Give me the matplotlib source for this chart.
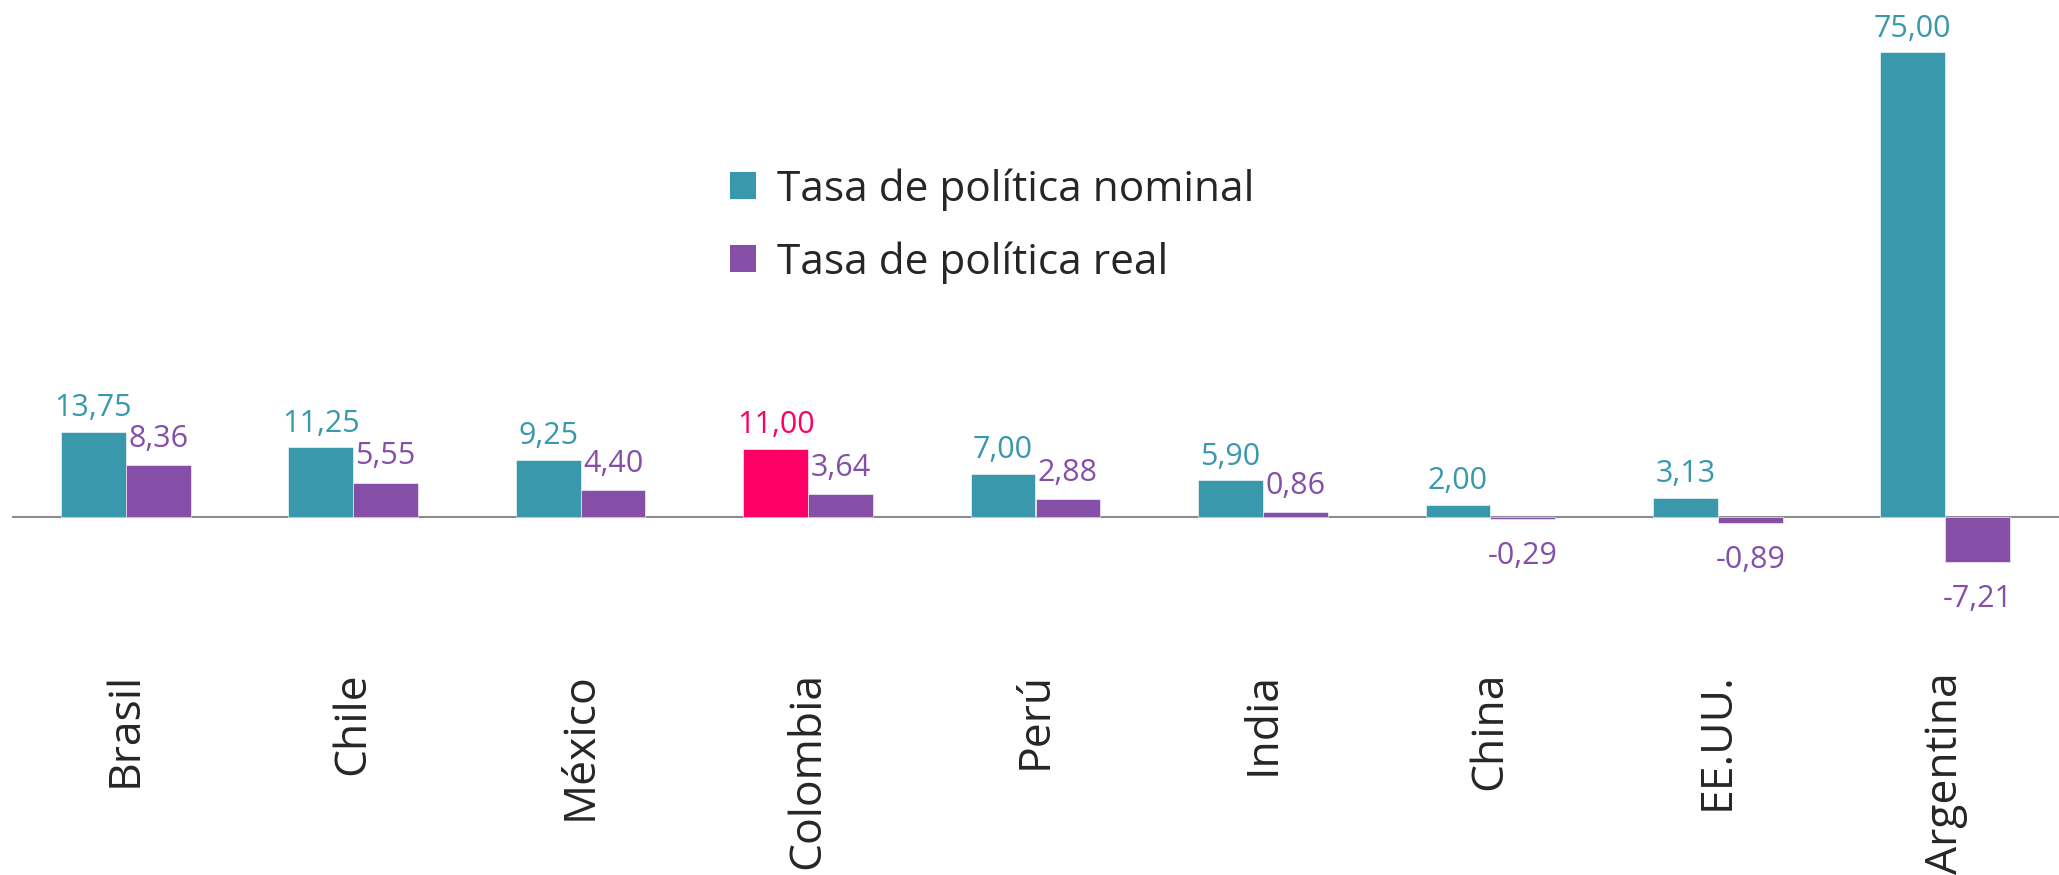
import numpy as np
import matplotlib
matplotlib.use('Agg')
import matplotlib.pyplot as plt
from matplotlib.patches import Patch

plt.rcParams['font.family'] = ['Open Sans', 'DejaVu Sans']

#Data
paises = ['Brasil', 'Chile', 'México', 'Colombia', 'Perú', 'India', 'China', 'EE.UU.', 'Argentina']
nominal = [13.75, 11.25, 9.25, 11.00, 7.00, 5.90, 2.00, 3.13, 75.00]
real = [8.36, 5.55, 4.40, 3.64, 2.88, 0.86, -0.29, -0.89, -7.21]
resaltado = 'Colombia'

teal = '#3A98AD'
purple = '#854FA8'
pink = '#FF0066'
texto = '#262626'

fig = plt.figure(figsize=(20.59, 8.75), dpi=100)
ax = fig.add_axes([12/2059, (875-665)/875, 1-12/2059, 665/875])

x = np.arange(len(paises))
w = 0.285
col_nom = [pink if p == resaltado else teal for p in paises]

ax.bar(x - w/2, nominal, w, color=col_nom, edgecolor='white', linewidth=0.4)
ax.bar(x + w/2, real, w, color=purple, edgecolor='white', linewidth=0.4)

def fmt(v):
    return ('%.2f' % v).replace('.', ',')

for i in range(len(paises)):
    ax.annotate(fmt(nominal[i]), (x[i] - w/2, nominal[i]), xytext=(0, 6),
                textcoords='offset points', ha='center', va='bottom',
                fontsize=22, color=col_nom[i])
    if real[i] >= 0:
        ax.annotate(fmt(real[i]), (x[i] + w/2, real[i]), xytext=(0, 8),
                    textcoords='offset points', ha='center', va='bottom',
                    fontsize=22, color=purple)
    else:
        ax.annotate(fmt(real[i]), (x[i] + w/2, real[i]), xytext=(0, -16),
                    textcoords='offset points', ha='center', va='top',
                    fontsize=22, color=purple)

ax.axhline(0, color='#8C8C8C', linewidth=1.5, zorder=0)

ax.set_xlim(-0.5, len(paises) - 0.5)
ax.set_ylim((517 - 665) / 6.2, 517 / 6.2)
for s in ax.spines.values():
    s.set_visible(False)
ax.set_yticks([])
ax.set_xticks(x)
ax.set_xticklabels(paises, rotation=90, fontsize=32, color=texto, va='top')
ax.tick_params(axis='x', length=0, pad=5)

handles = [Patch(facecolor=teal, label='Tasa de política nominal'),
           Patch(facecolor=purple, label='Tasa de política real')]
leg = fig.legend(handles=handles, loc='upper left', bbox_to_anchor=(692/2059, 1 - 130/875),
                 frameon=False, fontsize=30.5, labelcolor=texto, handlelength=0.6,
                 handleheight=0.6, handletextpad=0.5, labelspacing=0.72)

plt.savefig('out.png', dpi=100)
